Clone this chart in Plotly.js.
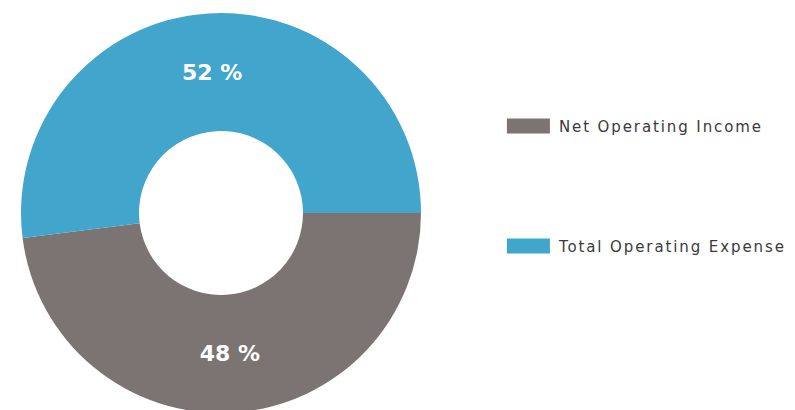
<!DOCTYPE html>
<html>
<head>
<meta charset="utf-8">
<script src="https://cdn.plot.ly/plotly-3.0.1.min.js"></script>
<style>
html, body { margin:0; padding:0; overflow:hidden; background:#fff; }
#chart { width:795px; height:420px; }
#chart .legendtext { letter-spacing: 1.9px; }
</style>
</head>
<body>
<div id="chart"></div>
<script>
const categories = ["Net Operating Income", "Total Operating Expense"];
const percents = [48, 52];
const sliceColors = ["#7b7472", "#42a5cc"];

// legend labels: extra blank lines on the first entry to space the legend rows
const legendLabels = categories.map((c, i) => i === 0 ? c + "<br> <br> <br> <br> <br> " : c);

const trace = {
  type: "pie",
  labels: legendLabels,
  values: percents,
  sort: false,
  direction: "clockwise",
  rotation: 90,
  hole: 0.41,
  marker: { colors: sliceColors, line: { width: 0 } },
  texttemplate: "%{value} %",
  textposition: "inside",
  insidetextorientation: "horizontal",
  insidetextfont: { family: "DejaVu Sans", size: 22, color: "#ffffff", weight: "bold" },
  hoverinfo: "none",
  domain: { x: [21/795, 421/795], y: [0, 1] }
};

const layout = {
  width: 795,
  height: 420,
  margin: { l: 0, r: 0, t: 13, b: 7, autoexpand: false },
  paper_bgcolor: "#ffffff",
  showlegend: true,
  legend: {
    x: 0.6263, xanchor: "left",
    y: 0.758, yanchor: "top",
    orientation: "v",
    valign: "top",
    itemwidth: 51,
    font: { family: "DejaVu Sans", size: 15, color: "#3a3a3a" },
    bgcolor: "rgba(0,0,0,0)"
  }
};

Plotly.newPlot("chart", [trace], layout, { displayModeBar: false, staticPlot: true }).then(() => {
  document.querySelectorAll(".legend .legendpoints path").forEach(p => {
    p.setAttribute("d", "M21.5,7.5H-21.5V-7.5H21.5Z");
  });
  document.querySelectorAll(".legend .scrollbox, .legend").forEach(s => s.removeAttribute("clip-path"));
});
</script>
</body>
</html>
